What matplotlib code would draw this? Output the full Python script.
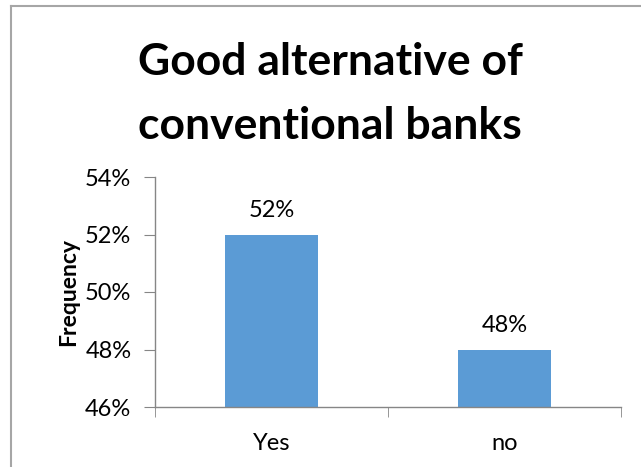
import matplotlib
matplotlib.use("Agg")
import matplotlib.pyplot as plt
from matplotlib.lines import Line2D
from matplotlib.ticker import FuncFormatter

# chart data
categories = ["Yes", "no"]
shares = [0.52, 0.48]
y_ticks = [0.46, 0.48, 0.50, 0.52, 0.54]

plt.rcParams['font.family'] = ['Lato', 'DejaVu Sans']

fig = plt.figure(figsize=(6.41, 4.67), dpi=100)
ax = fig.add_axes([155 / 641, 1 - 407 / 467, 466 / 641, 230 / 467])

x = list(range(len(categories)))
bars = ax.bar(x, shares, width=0.4, color="#5B9BD5", zorder=2)

ax.set_xlim(-0.5, len(categories) - 0.5)
ax.set_ylim(y_ticks[0], y_ticks[-1])
ax.set_yticks(y_ticks)
ax.yaxis.set_major_formatter(FuncFormatter(lambda v, _: f"{v * 100:.0f}%"))
ax.set_xticks(x)
ax.set_xticklabels(categories)
ax.set_xticks([i - 0.5 for i in range(len(categories) + 1)], minor=True)

axis_grey = "#868686"
for side in ("top", "right"):
    ax.spines[side].set_visible(False)
for side in ("left", "bottom"):
    ax.spines[side].set_color(axis_grey)
    ax.spines[side].set_linewidth(1.0)

ax.tick_params(axis="y", direction="out", length=8, color=axis_grey,
               labelsize=17, pad=9)
ax.tick_params(axis="x", which="major", length=0, labelsize=17, pad=19)
ax.tick_params(axis="x", which="minor", direction="out", length=7,
               color=axis_grey)

ax.set_ylabel("Frequency", fontsize=16.5, fontweight="bold", labelpad=4)

# value labels above each bar
for b, v in zip(bars, shares):
    ax.annotate(f"{v * 100:.0f}%", (b.get_x() + b.get_width() / 2, v),
                xytext=(0, 10), textcoords="offset points",
                ha="center", va="bottom", fontsize=17)

fig.text(0.515, 1 - 94 / 467, "Good alternative of\nconventional banks",
         ha="center", va="center", fontsize=32, fontweight="bold",
         linespacing=1.7)

# outer chart frame (left and top edges only)
frame_kw = dict(transform=fig.transFigure, color="#a6a6a6", linewidth=1.5)
fig.lines.append(Line2D([11 / 641, 11 / 641], [0, 1 - 6 / 467], **frame_kw))
fig.lines.append(Line2D([11 / 641, 1], [1 - 6 / 467, 1 - 6 / 467], **frame_kw))

fig.savefig("out.png", dpi=100)
